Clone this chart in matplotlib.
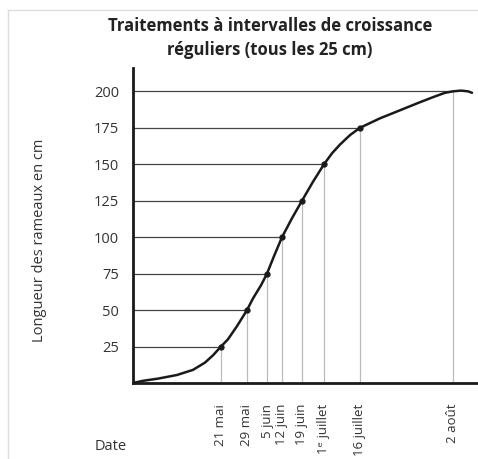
import matplotlib
matplotlib.use("Agg")
import matplotlib.pyplot as plt
from matplotlib.lines import Line2D

plt.rcParams['font.family'] = ['Open Sans', 'DejaVu Sans']

# Data (x in relative time units)
date_labels = ["21 mai", "29 mai", "5 juin", "12 juin", "19 juin", "1ᵉ juillet", "16 juillet", "2 août"]
date_x = [88, 114, 134, 149, 169, 191, 227, 320]
date_y = [25, 50, 75, 100, 125, 150, 175, 200]

curve_x = [0, 10, 25, 44, 60, 72, 80, 88, 95, 104, 114, 120, 128, 134, 141, 149, 159, 169,
           180, 191, 199, 207, 217, 227, 247, 267, 285, 300, 312, 320, 328, 335, 339]
curve_y = [0, 1.5, 3, 5.5, 9, 14, 19, 25, 30, 39, 50, 58, 67, 75, 87, 100, 113, 125,
           138, 150, 157.5, 163.5, 170, 175, 181.5, 187, 192, 196, 199, 200, 200.5, 200, 199]

y_ticks = [25, 50, 75, 100, 125, 150, 175, 200]

fig = plt.figure(figsize=(4.78, 4.59), dpi=100)
W, H = 478, 459

# light frame
fig.add_artist(Line2D([8 / W, 8 / W], [0, 1 - 10 / H], transform=fig.transFigure, color="#dddddd", lw=1))
fig.add_artist(Line2D([8 / W, 1], [1 - 10 / H, 1 - 10 / H], transform=fig.transFigure, color="#dddddd", lw=1))

ax = fig.add_axes([133 / W, (H - 383) / H, 345 / W, (383 - 68) / H])
ax.set_xlim(0, 345)
ax.set_ylim(0, 216)

for x, y in zip(date_x, date_y):
    ax.plot([0, x], [y, y], color="#444444", lw=0.9, zorder=1)
    ax.plot([x, x], [0, y], color="#bbbbbb", lw=0.9, zorder=1)

ax.plot(curve_x, curve_y, color="#1a1a1a", lw=1.8, zorder=3, solid_capstyle="round", solid_joinstyle="round")
ax.plot(date_x[:-1], date_y[:-1], "o", color="#1a1a1a", ms=3.5, zorder=4)

for s in ["top", "right"]:
    ax.spines[s].set_visible(False)
for s in ["left", "bottom"]:
    ax.spines[s].set_linewidth(2)
    ax.spines[s].set_color("#1a1a1a")

ax.set_yticks(y_ticks)
ax.set_yticklabels([str(v) for v in y_ticks])
ax.tick_params(axis="y", length=0, pad=10, labelsize=10.5, labelcolor="#333333")
ax.set_xticks(date_x)
ax.set_xticklabels(date_labels, rotation=90, va="top")
ax.tick_params(axis="x", length=0, pad=15, labelsize=9.5, labelcolor="#333333")

fig.text(270 / W, 1 - 38 / H, "Traitements à intervalles de croissance\nréguliers (tous les 25 cm)",
         ha="center", va="center", fontsize=12, fontweight="bold", color="#222222", linespacing=1.45)
fig.text(40 / W, 1 - 240 / H, "Longueur des rameaux en cm", rotation=90, ha="center", va="center",
         fontsize=10.5, color="#333333")
fig.text(95 / W, 1 - 447 / H, "Date", ha="left", va="center", fontsize=10.5, color="#333333")

fig.savefig("out.png", dpi=100)
